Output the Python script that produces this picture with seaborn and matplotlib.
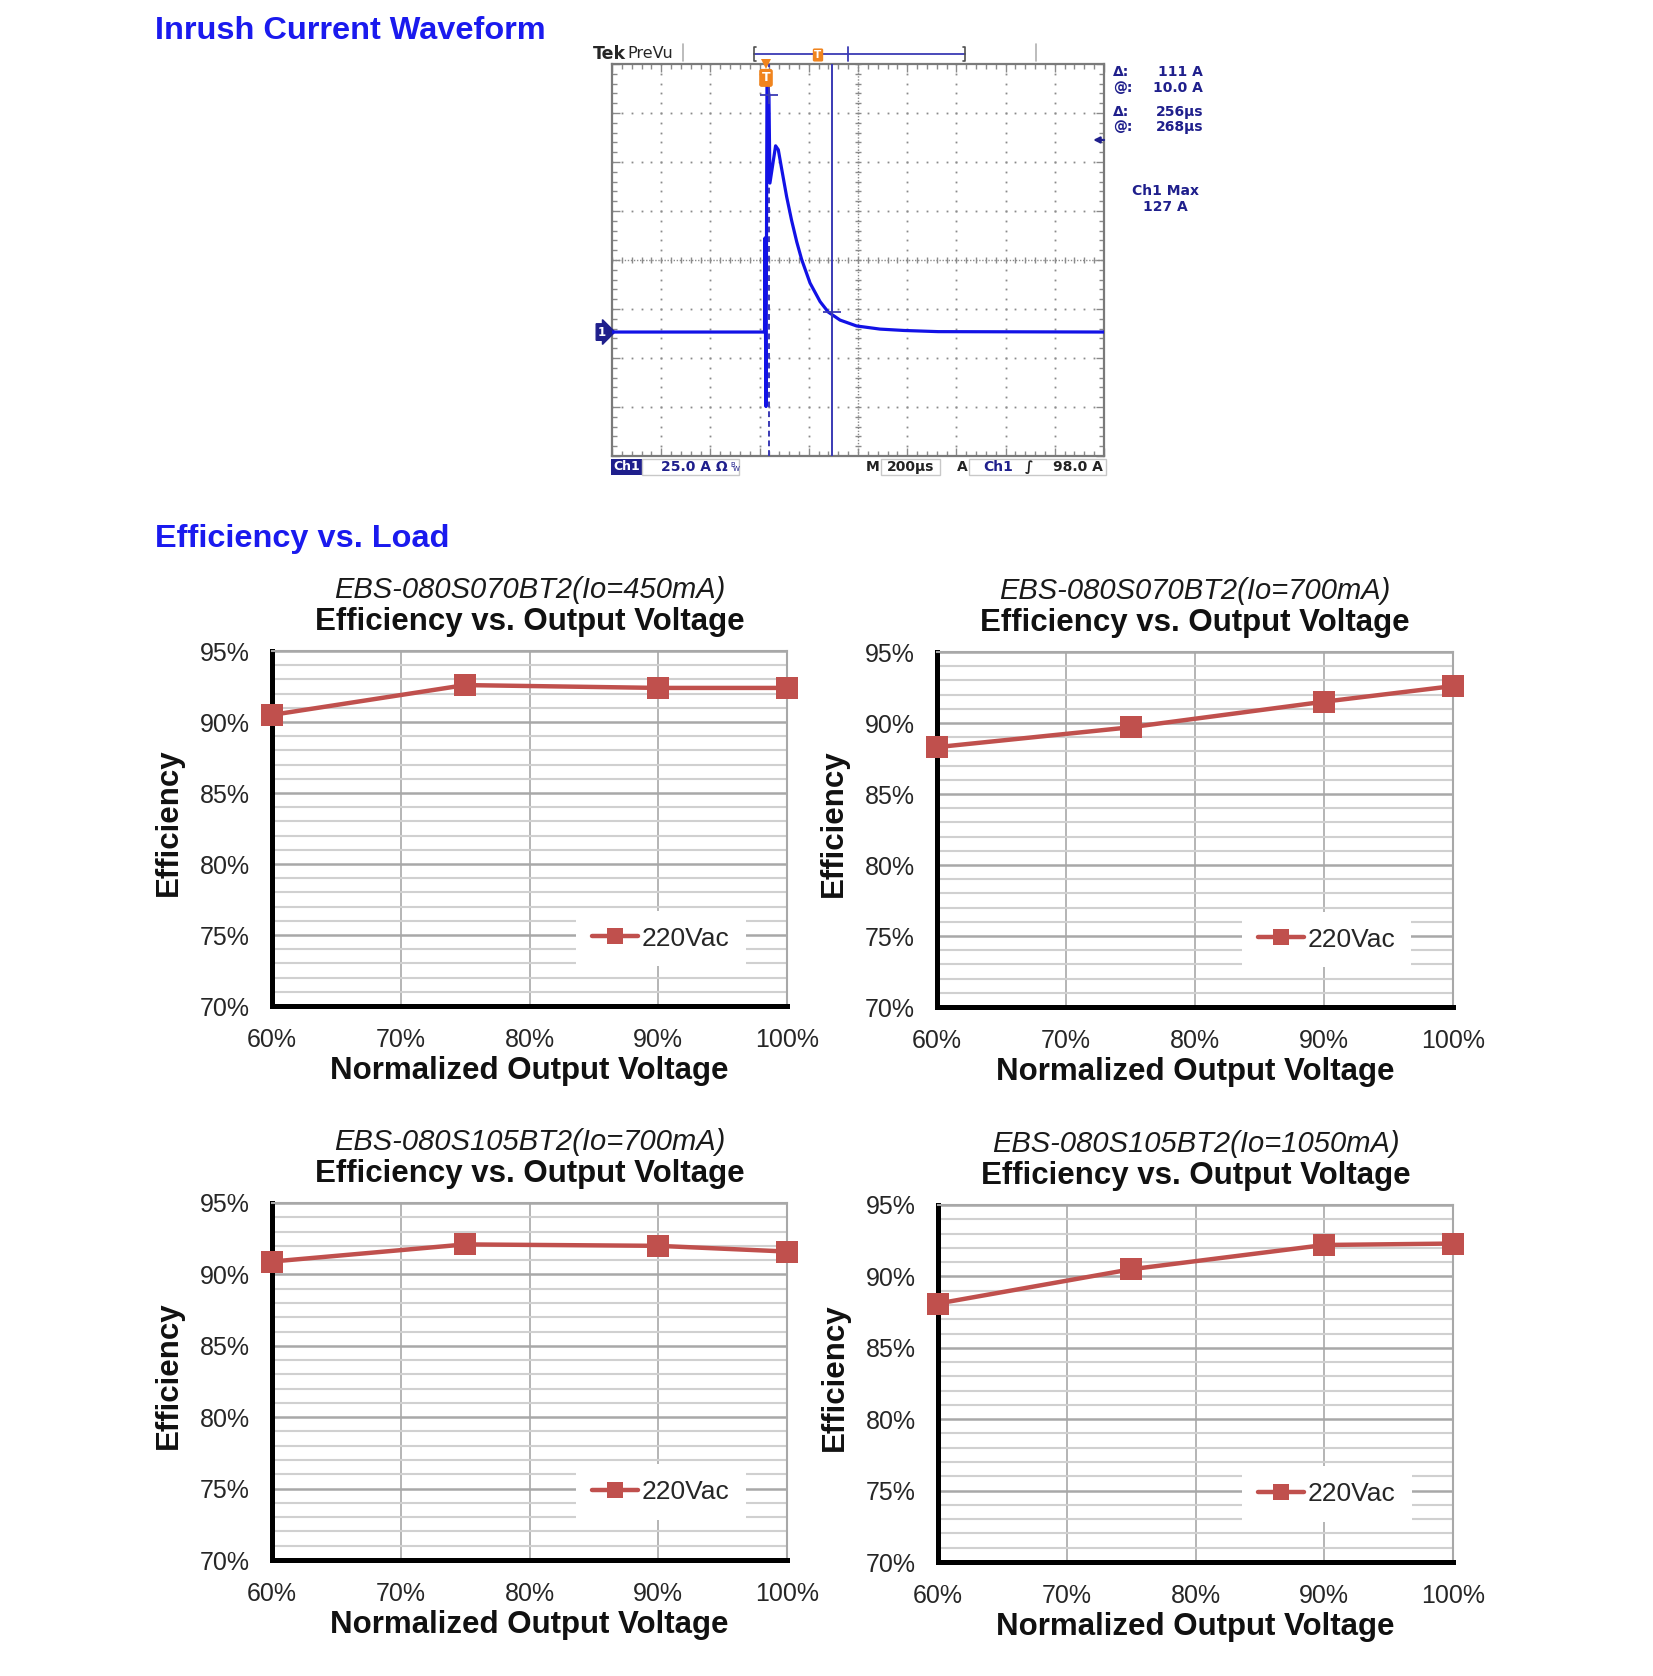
import numpy as np
import pandas as pd
import matplotlib
matplotlib.use("Agg")
import matplotlib.pyplot as plt
import matplotlib.transforms as mtransforms
from matplotlib.patches import Rectangle
from matplotlib.ticker import MultipleLocator
import seaborn as sns

# ---------------- data ----------------
voltage_pct = [60, 75, 90, 100]
eff_070_450 = [90.5, 92.6, 92.4, 92.4]
eff_070_700 = [88.3, 89.7, 91.5, 92.6]
eff_105_700 = [90.9, 92.1, 92.0, 91.6]
eff_105_1050 = [88.1, 90.5, 92.2, 92.3]
model_titles = ["EBS-080S070BT2(Io=450mA)", "EBS-080S070BT2(Io=700mA)",
                "EBS-080S105BT2(Io=700mA)", "EBS-080S105BT2(Io=1050mA)"]
x_ticks = [60, 70, 80, 90, 100]
x_tick_labels = ["60%", "70%", "80%", "90%", "100%"]
y_ticks = [70, 75, 80, 85, 90, 95]
y_tick_labels = ["70%", "75%", "80%", "85%", "90%", "95%"]
series_label = "220Vac"

# oscilloscope trace (time in us relative to trigger, current in A)
scope_t_us = [-626, -6, -4, -2, 0, 4, 12, 16, 39, 50, 64, 84, 104, 125, 145,
              179, 220, 253, 301, 368, 463, 560, 700, 1374]
scope_i_a = [0, 0, 48, 0, -38, 127, 121, 76, 95, 93, 83, 69, 57, 46, 37,
             25, 15.5, 10.2, 6.1, 3.1, 1.5, 0.8, 0.2, 0]
cursor_t_us = [12, 268]
cursor_i_a = [121, 10]
trigger_level_a = 98.0
us_per_div = 200
a_per_div = 25
trigger_div_from_left = 3.13
ground_div_from_bottom = 2.53

# ---------------- figure ----------------
W, H, DPI = 1653, 1676, 100
sns.set_style("white")
plt.rcParams["font.family"] = ["Liberation Sans", "DejaVu Sans"]
fig = plt.figure(figsize=(W / DPI, H / DPI), dpi=DPI)
fig.patch.set_facecolor("white")


def P(x, y):
    return (x / W, 1 - y / H)


TITLE_BLUE = "#1a1aee"
NAVY = "#1f1f8c"
ORANGE = "#f0841e"
TRACE = "#1212e6"
CURSOR = "#3a3ab4"
GRIDC = "#8a8a8a"
RED = "#c0504d"

fig.text(*P(155, 31), "Inrush Current Waveform", color=TITLE_BLUE, fontsize=23.4,
         fontweight="bold", ha="left", va="center")
fig.text(*P(155, 539), "Efficiency vs. Load", color=TITLE_BLUE, fontsize=23.4,
         fontweight="bold", ha="left", va="center")

# ---------------- scope ----------------
axs = fig.add_axes([612 / W, 1 - 456 / H, 492 / W, 392 / H])
xl = (-trigger_div_from_left * us_per_div, (10 - trigger_div_from_left) * us_per_div)
yl = (-ground_div_from_bottom * a_per_div, (8 - ground_div_from_bottom) * a_per_div)
axs.set_xlim(xl)
axs.set_ylim(yl)
axs.set_facecolor("white")

maj_x = xl[0] + us_per_div * np.arange(1, 10)
maj_y = yl[0] + a_per_div * np.arange(1, 8)
min_x = xl[0] + us_per_div / 5 * np.arange(0, 51)
min_y = yl[0] + a_per_div / 5 * np.arange(0, 41)
xc = xl[0] + 5 * us_per_div
yc = yl[0] + 4 * a_per_div
for xv in maj_x:
    if abs(xv - xc) < 1e-6:
        continue
    axs.plot(np.full_like(min_y, xv), min_y, ls="none", marker="s", ms=1.3,
             color=GRIDC, mew=0, zorder=1)
for yv in maj_y:
    if abs(yv - yc) < 1e-6:
        continue
    axs.plot(min_x, np.full_like(min_x, yv), ls="none", marker="s", ms=1.3,
             color=GRIDC, mew=0, zorder=1)
axs.axhline(yc, color=GRIDC, lw=1.0, ls=(0, (1, 1.2)), zorder=1)
axs.axvline(xc, color=GRIDC, lw=1.0, ls=(0, (1, 1.2)), zorder=1)
axs.plot(min_x, np.full_like(min_x, yc), ls="none", marker="|", ms=5, mew=1,
         color=GRIDC, zorder=1)
axs.plot(np.full_like(min_y, xc), min_y, ls="none", marker="_", ms=5, mew=1,
         color=GRIDC, zorder=1)
axs.set_xticks(xl[0] + us_per_div * np.arange(0, 11))
axs.set_yticks(yl[0] + a_per_div * np.arange(0, 9))
axs.set_xticks(min_x, minor=True)
axs.set_yticks(min_y, minor=True)
axs.tick_params(which="both", direction="in", top=True, right=True, bottom=True,
                left=True, labelbottom=False, labelleft=False, color=GRIDC,
                width=1)
axs.tick_params(which="major", length=6)
axs.tick_params(which="minor", length=3.5)
for s in axs.spines.values():
    s.set_color("#7a7a7a")
    s.set_linewidth(1.6)

sns.lineplot(x=scope_t_us, y=scope_i_a, sort=False, estimator=None, color=TRACE,
             lw=2.3, ax=axs, legend=False, zorder=4)
axs.axvline(cursor_t_us[0], color=CURSOR, lw=1.4, ls=(0, (3, 2)), zorder=3)
axs.axvline(cursor_t_us[1], color=CURSOR, lw=1.4, zorder=3)
axs.plot(cursor_t_us, cursor_i_a, ls="none", marker="+", ms=13, mew=1.3,
         color=CURSOR, zorder=5)

# trigger marker
axs.plot([0], [yl[1]], marker="v", ms=7, color=ORANGE, clip_on=False, zorder=6,
         mew=0)
axs.annotate("T", xy=(0, yl[1]), xytext=(0, -10), textcoords="offset points",
             ha="center", va="center", color="white", fontweight="bold",
             fontsize=9, family="DejaVu Sans",
             bbox=dict(boxstyle="round,pad=0.2", fc=ORANGE, ec="none"),
             annotation_clip=False, zorder=6)
blend = mtransforms.blended_transform_factory(axs.transAxes, axs.transData)
axs.text(-0.012, 0, "1", transform=blend, ha="right", va="center", color="white",
         fontweight="bold", fontsize=8.5, family="DejaVu Sans",
         bbox=dict(boxstyle="rarrow,pad=0.15", fc=NAVY, ec=NAVY), clip_on=False)
axs.annotate("", xy=(0.978, trigger_level_a), xytext=(1.0, trigger_level_a),
             xycoords=blend, textcoords=blend,
             arrowprops=dict(arrowstyle="-|>", color=NAVY, lw=1.6,
                             mutation_scale=9, shrinkA=0, shrinkB=0))

# overlay for the scope screen decorations (pixel coordinates)
ov = fig.add_axes([0, 0, 1, 1], zorder=10)
ov.set_xlim(0, W)
ov.set_ylim(H, 0)
ov.axis("off")
ov.patch.set_alpha(0)

ov.text(593, 54, "Tek", fontsize=12.5, fontweight="bold", ha="left",
        va="center", family="DejaVu Sans")
ov.text(627, 53, "PreVu", fontsize=11.5, ha="left", va="center",
        family="DejaVu Sans")
ov.plot([683, 683], [44, 61], color="#b0b0b0", lw=1.2)
ov.plot([1036, 1036], [44, 61], color="#b0b0b0", lw=1.2)
ov.plot([754, 965], [54, 54], color=CURSOR, lw=1.3)
ov.plot([756, 754, 754, 756], [47, 47, 61, 61], color="#505050", lw=1.2)
ov.plot([963, 965, 965, 963], [47, 47, 61, 61], color="#505050", lw=1.2)
ov.plot([848, 848], [47, 61], color=CURSOR, lw=1.3)
ov.text(818, 55, "T", color="white", fontsize=7.5, fontweight="bold",
        ha="center", va="center", family="DejaVu Sans",
        bbox=dict(boxstyle="round,pad=0.15", fc=ORANGE, ec="none"))

RD = dict(color=NAVY, fontsize=10, fontweight="bold", family="DejaVu Sans",
          va="center")
for yy, lab, val in [(72, "\u0394:", "111 A"), (88, "@:", "10.0 A"),
                     (112, "\u0394:", "256\u00b5s"), (127, "@:", "268\u00b5s")]:
    ov.text(1113, yy, lab, ha="left", **RD)
    ov.text(1203, yy, val, ha="right", **RD)
ov.text(1165, 191, "Ch1 Max", ha="center", **RD)
ov.text(1165, 207, "127 A", ha="center", **RD)

# status bar
SY = 466.5
ST = dict(fontsize=10, family="DejaVu Sans", va="center", fontweight="bold")
ov.add_patch(Rectangle((611, 458.5), 31, 16, fc=NAVY, ec="none"))
ov.text(626.5, SY, "Ch1", color="white", ha="center", fontsize=9,
        family="DejaVu Sans", va="center", fontweight="bold")
ov.add_patch(Rectangle((642, 458.5), 97, 16, fc="none", ec="#c8c8c8", lw=1))
ov.text(661, SY, "25.0 A \u03a9", color=NAVY, ha="left", **ST)
ov.text(730, SY - 2, "B", color=NAVY, ha="left", fontsize=5,
        family="DejaVu Sans", va="center")
ov.text(733, SY + 2, "W", color=NAVY, ha="left", fontsize=5,
        family="DejaVu Sans", va="center")
ov.text(873, SY, "M", color="#222222", ha="center", **ST)
ov.add_patch(Rectangle((881, 458.5), 59, 16, fc="none", ec="#c8c8c8", lw=1))
ov.text(911, SY, "200\u00b5s", color="#222222", ha="center", **ST)
ov.text(962, SY, "A", color="#222222", ha="center", **ST)
ov.add_patch(Rectangle((969, 458.5), 137, 16, fc="none", ec="#c8c8c8", lw=1))
ov.text(983, SY, "Ch1", color=NAVY, ha="left", **ST)
ov.text(1029, SY, "\u222b", color="#222222", ha="center", **ST)
ov.text(1103, SY, "98.0 A", color="#222222", ha="right", **ST)

# ---------------- efficiency charts ----------------
eff_sets = [eff_070_450, eff_070_700, eff_105_700, eff_105_1050]
rects_px = [(272, 651, 787, 1006), (937, 652, 1453, 1007),
            (272, 1203, 787, 1560), (938, 1205, 1453, 1562)]

for eff, title, (l, t, r, b) in zip(eff_sets, model_titles, rects_px):
    wpx, hpx = r - l, b - t
    ax = fig.add_axes([l / W, 1 - b / H, wpx / W, hpx / H])
    df = pd.DataFrame({"Normalized Output Voltage": voltage_pct,
                       "Efficiency": eff})
    sns.lineplot(data=df, x="Normalized Output Voltage", y="Efficiency", ax=ax,
                 color=RED, lw=3.2, marker="s", ms=16, mec=RED, mew=0,
                 label=series_label, zorder=5)
    for ln in ax.lines:
        ln.set_clip_on(False)
    ax.set_xlim(60, 100)
    ax.set_ylim(70, 95)
    ax.set_xticks(x_ticks)
    ax.set_xticklabels(x_tick_labels)
    ax.set_yticks(y_ticks)
    ax.set_yticklabels(y_tick_labels)
    ax.yaxis.set_minor_locator(MultipleLocator(1))
    ax.set_axisbelow(True)
    ax.grid(which="minor", axis="y", color="#d0d0d0", lw=1.5)
    ax.grid(which="major", axis="y", color="#a8a8a8", lw=1.8)
    ax.grid(which="major", axis="x", color="#a8a8a8", lw=1.2)
    ax.tick_params(which="minor", length=0)
    ax.tick_params(which="major", direction="in", length=6, width=3,
                   color="black", labelsize=18, labelcolor="#262626", pad=16)
    for side in ["left", "bottom"]:
        ax.spines[side].set_color("black")
        ax.spines[side].set_linewidth(3.6)
    for side in ["top", "right"]:
        ax.spines[side].set_color("#a8a8a8")
        ax.spines[side].set_linewidth(1.5)

    ax.set_xlabel("Normalized Output Voltage", fontsize=22.5, fontweight="bold",
                  color="#111111")
    ax.xaxis.label.set_verticalalignment("center")
    ax.xaxis.set_label_coords(0.5, -65 / hpx)
    ax.set_ylabel("Efficiency", fontsize=22.5, fontweight="bold", color="#111111")
    ax.yaxis.label.set_verticalalignment("center")
    ax.yaxis.set_label_coords(-103 / wpx, 0.5 + 6 / hpx)

    ax.text(0.5, 1 + 61 / hpx, title, transform=ax.transAxes, ha="center",
            va="center", fontsize=21, style="italic", color="#1a1a1a")
    ax.text(0.5, 1 + 29 / hpx, "Efficiency vs. Output Voltage",
            transform=ax.transAxes, ha="center", va="center", fontsize=22.5,
            fontweight="bold", color="#111111")

    leg = ax.legend(loc="center", bbox_to_anchor=(0.755, 0.19), frameon=True,
                    fontsize=19, handlelength=1.75, handletextpad=0.15,
                    borderpad=0.6, markerscale=0.75, fancybox=False)
    leg.get_frame().set_facecolor("white")
    leg.get_frame().set_edgecolor("none")
    leg.get_frame().set_alpha(1)
    for txt in leg.get_texts():
        txt.set_color("#262626")

fig.savefig("out.png", dpi=DPI, facecolor="white")
